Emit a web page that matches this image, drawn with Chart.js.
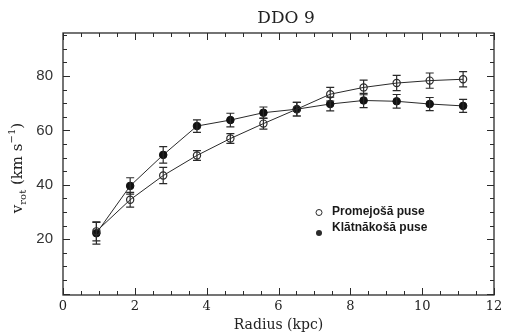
<!DOCTYPE html>
<html>
<head>
<meta charset="utf-8">
<title>DDO 9</title>
<script src="https://cdn.jsdelivr.net/npm/chart.js@4/dist/chart.umd.min.js"></script>
<style>
	html, body { margin:0; padding:0; background:#fff; }
	#wrap { position:relative; width:508px; height:335px; }
</style>
</head>
<body>
<div id="wrap"><canvas id="rotChart" width="508" height="335"></canvas></div>
<script>
	//半径 (kpc)
	var radius = [0.93, 1.87, 2.79, 3.73, 4.66, 5.58, 6.51, 7.44, 8.37, 9.29, 10.21, 11.14];
	//Promejošā puse
	var recedingV   = [22.9, 34.5, 43.4, 50.8, 57.0, 62.5, 67.8, 73.3, 75.8, 77.4, 78.3, 78.8];
	var recedingErr = [3.5, 2.7, 3.0, 1.8, 1.8, 2.0, 2.5, 2.5, 2.7, 2.8, 2.8, 2.8];
	//Klātnākošā puse
	var approachV   = [22.2, 39.6, 51.0, 61.6, 63.8, 66.5, 67.8, 69.7, 71.0, 70.7, 69.7, 69.0];
	var approachErr = [4.0, 3.0, 3.0, 2.3, 2.5, 2.1, 2.5, 2.5, 2.6, 2.5, 2.4, 2.4];
	//刻度
	var xTicks = [0, 2, 4, 6, 8, 10, 12];
	var yTicks = [20, 40, 60, 80];
	var xMinor = 0.5;
	var yMinor = 5;

	function toPoints(xs, ys, errs){
		var pts = [];
		for (var i = 0; i < xs.length; i++) {
			pts.push({x: xs[i], y: ys[i], err: errs[i]});
		}
		return pts;
	}

	var ink = '#2a2a2a';

	//误差棒
	var errorBars = {
		id: 'errorBars',
		afterDatasetsDraw: function(chart){
			var ctx = chart.ctx, xs = chart.scales.x, ys = chart.scales.y;
			ctx.save();
			ctx.strokeStyle = ink;
			ctx.lineWidth = 1.2;
			chart.data.datasets.forEach(function(ds){
				ds.data.forEach(function(p){
					var px = xs.getPixelForValue(p.x);
					var top = ys.getPixelForValue(p.y + p.err);
					var bot = ys.getPixelForValue(p.y - p.err);
					ctx.beginPath();
					ctx.moveTo(px, top); ctx.lineTo(px, bot);
					ctx.moveTo(px - 4, top); ctx.lineTo(px + 4, top);
					ctx.moveTo(px - 4, bot); ctx.lineTo(px + 4, bot);
					ctx.stroke();
				});
			});
			ctx.restore();
		}
	};

	//边框和向内的刻度
	var frameTicks = {
		id: 'frameTicks',
		afterDraw: function(chart){
			var ctx = chart.ctx, a = chart.chartArea;
			var xs = chart.scales.x, ys = chart.scales.y;
			ctx.save();
			ctx.strokeStyle = ink;
			ctx.lineWidth = 1.3;
			ctx.strokeRect(a.left, a.top, a.right - a.left, a.bottom - a.top);
			ctx.lineWidth = 1;
			ctx.beginPath();
			var v, px, len;
			for (v = xs.min; v <= xs.max + 1e-6; v += xMinor) {
				px = Math.round(xs.getPixelForValue(v)) + 0.5;
				len = (Math.abs(v % 2) < 1e-6) ? 7 : 4;
				ctx.moveTo(px, a.bottom); ctx.lineTo(px, a.bottom - len);
				ctx.moveTo(px, a.top); ctx.lineTo(px, a.top + len);
			}
			for (v = 0; v <= ys.max; v += yMinor) {
				px = Math.round(ys.getPixelForValue(v)) + 0.5;
				len = (v % 20 === 0) ? 7 : 4;
				ctx.moveTo(a.left, px); ctx.lineTo(a.left + len, px);
				ctx.moveTo(a.right, px); ctx.lineTo(a.right - len, px);
			}
			ctx.stroke();

			//标题
			ctx.fillStyle = '#222';
			ctx.font = '17px "DejaVu Serif"';
			ctx.textAlign = 'center';
			ctx.textBaseline = 'middle';
			ctx.fillText('DDO 9', 286, 19);

			//y 轴标题 v_rot (km s^-1)
			ctx.translate(17, 168);
			ctx.rotate(-Math.PI / 2);
			ctx.textAlign = 'left';
			ctx.textBaseline = 'alphabetic';
			var big = '15px "DejaVu Serif"', small = '10px "DejaVu Serif"';
			var parts = [
				{t: 'v', f: big, dy: 0},
				{t: 'rot', f: small, dy: 4},
				{t: ' (km s', f: big, dy: 0},
				{t: '\u22121', f: small, dy: -7},
				{t: ')', f: big, dy: 0}
			];
			var total = 0;
			parts.forEach(function(p){ ctx.font = p.f; total += ctx.measureText(p.t).width; });
			var cx = -total / 2;
			parts.forEach(function(p){
				ctx.font = p.f;
				ctx.fillText(p.t, cx, 5 + p.dy);
				cx += ctx.measureText(p.t).width;
			});
			ctx.restore();

			//图例
			ctx.save();
			ctx.strokeStyle = ink;
			ctx.fillStyle = ink;
			ctx.lineWidth = 1;
			ctx.beginPath(); ctx.arc(319, 212.5, 3, 0, Math.PI * 2); ctx.stroke();
			ctx.beginPath(); ctx.arc(319, 233, 3, 0, Math.PI * 2); ctx.fill();
			ctx.font = 'bold 12px "Liberation Sans"';
			ctx.textBaseline = 'middle';
			ctx.fillStyle = '#1a1a1a';
			ctx.fillText('Promejošā puse', 332, 212);
			ctx.fillText('Klātnākošā puse', 332, 228);
			ctx.restore();
		}
	};

	var rotCanvas = document.getElementById('rotChart').getContext('2d');
	var rotChart = new Chart(rotCanvas, {
		type: 'scatter',
		data: {
			datasets: [
				{
					label: 'Promejošā puse',
					data: toPoints(radius, recedingV, recedingErr),
					showLine: true,
					borderColor: ink,
					borderWidth: 1,
					pointStyle: 'circle',
					pointRadius: 3.6,
					pointBorderWidth: 1.2,
					pointBorderColor: ink,
					pointBackgroundColor: 'rgba(255,255,255,0)'
				},
				{
					label: 'Klātnākošā puse',
					data: toPoints(radius, approachV, approachErr),
					showLine: true,
					borderColor: ink,
					borderWidth: 1,
					pointStyle: 'circle',
					pointRadius: 3.8,
					pointBorderWidth: 1,
					pointBorderColor: '#111',
					pointBackgroundColor: '#111'
				}
			]
		},
		options: {
			responsive: false,
			animation: false,
			layout: { padding: { top: 33, right: 14, left: 0, bottom: 0 } },
			plugins: {
				legend: { display: false },
				tooltip: { enabled: false }
			},
			scales: {
				x: {
					type: 'linear',
					min: 0,
					max: 12,
					grid: { display: false, drawTicks: false },
					border: { display: false },
					afterBuildTicks: function(scale){
						scale.ticks = xTicks.map(function(v){ return {value: v}; });
					},
					afterFit: function(scale){ scale.height = 40; },
					ticks: {
						padding: 4,
						color: '#222',
						font: { family: '"DejaVu Serif"', size: 13 },
						maxRotation: 0
					},
					title: {
						display: true,
						text: 'Radius (kpc)',
						color: '#222',
						font: { family: '"DejaVu Serif"', size: 14 },
						padding: { top: 0, bottom: 1 }
					}
				},
				y: {
					type: 'linear',
					min: -0.5,
					max: 95.8,
					grid: { display: false, drawTicks: false },
					border: { display: false },
					afterBuildTicks: function(scale){
						scale.ticks = yTicks.map(function(v){ return {value: v}; });
					},
					afterFit: function(scale){ scale.width = 63; },
					ticks: {
						padding: 10,
						color: '#333',
						font: { family: '"Liberation Sans"', size: 15 }
					}
				}
			}
		},
		plugins: [errorBars, frameTicks]
	});
</script>
</body>
</html>
